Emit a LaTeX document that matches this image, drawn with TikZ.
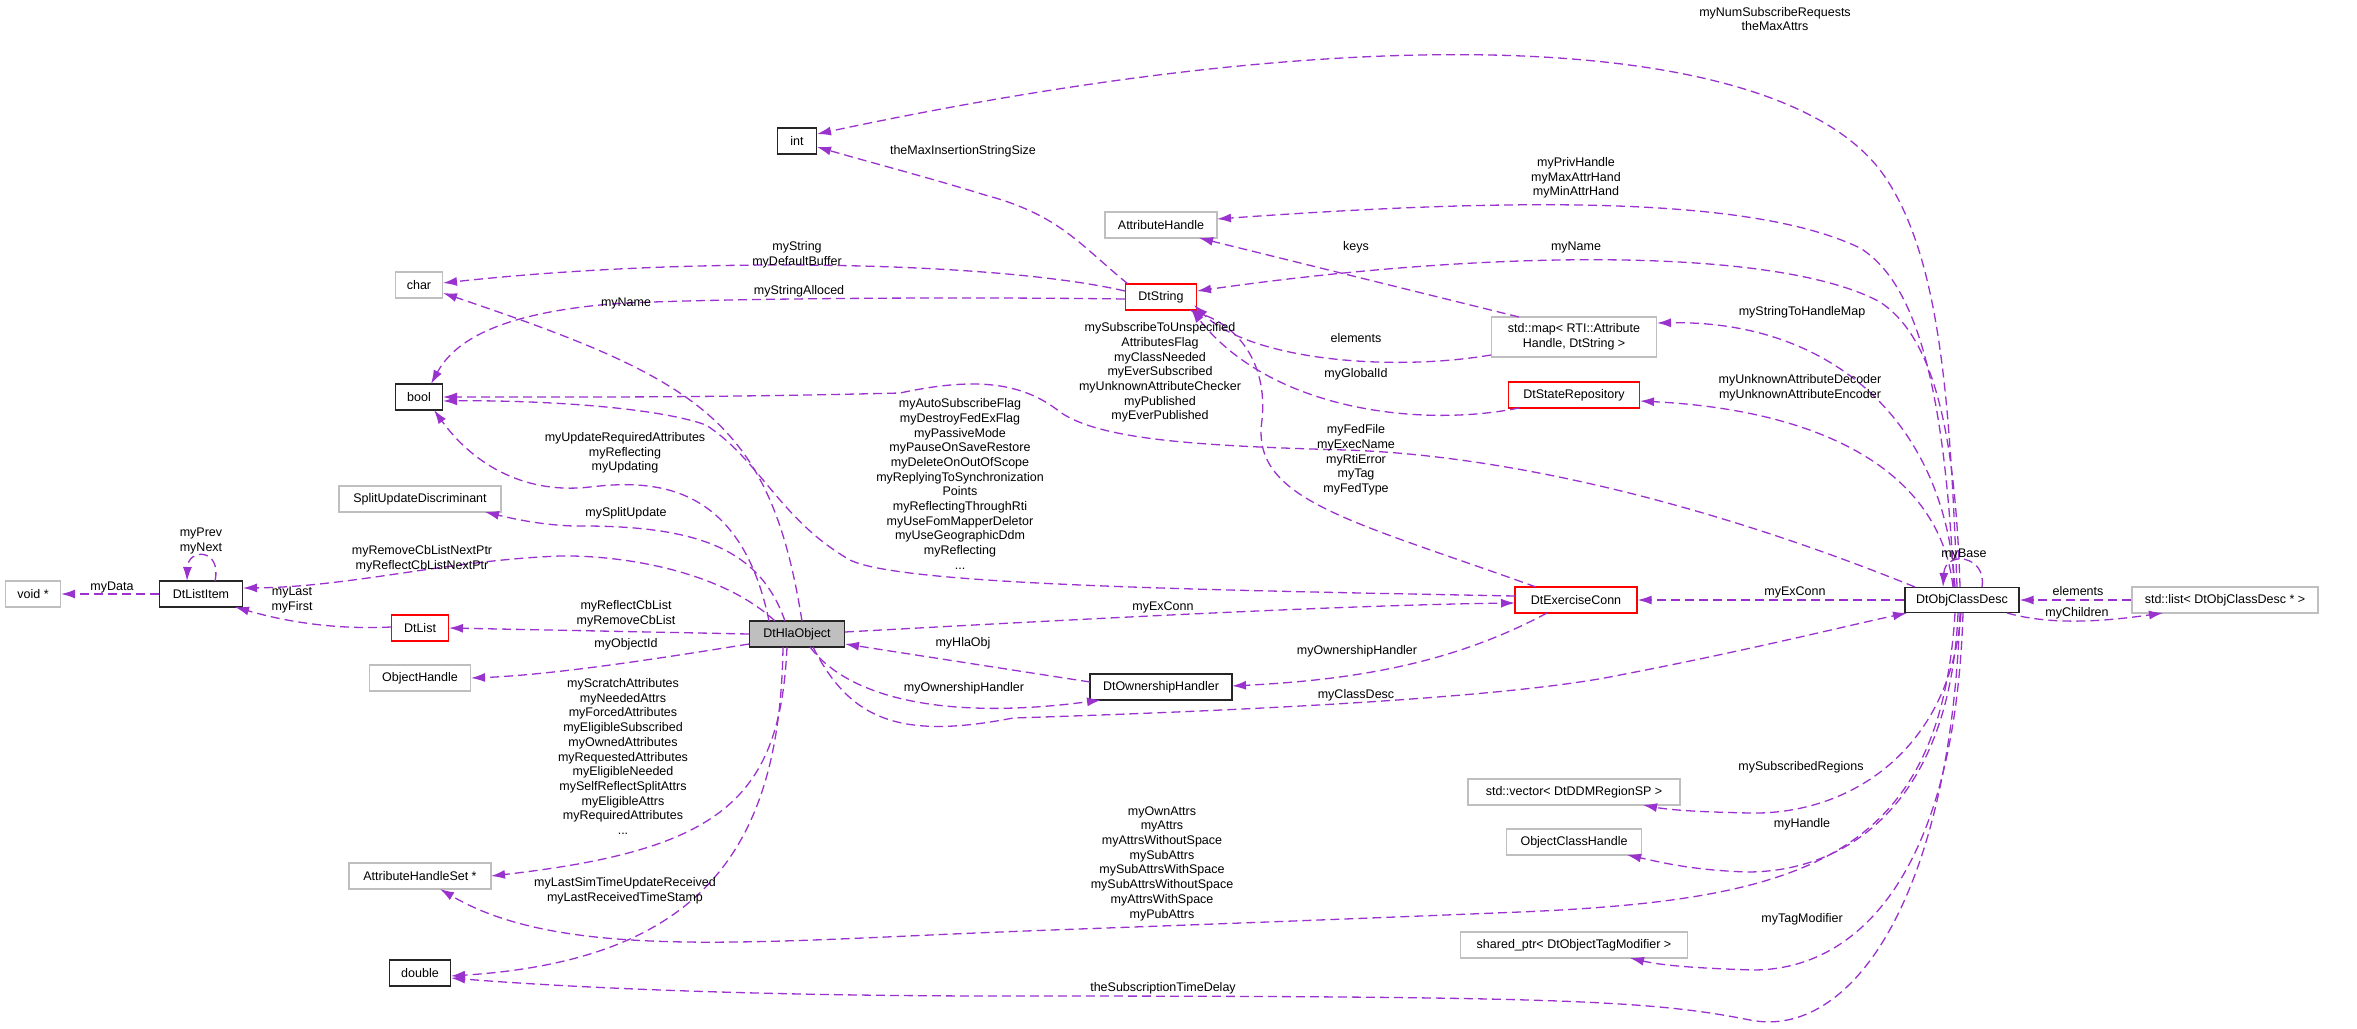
\documentclass[tikz,border=0pt]{standalone}
\usepackage{fontspec}
\setmainfont{Liberation Sans}
\usetikzlibrary{arrows.meta,calc}
\definecolor{edg}{HTML}{9A32CD}
\definecolor{gbox}{HTML}{BFBFBF}
\begin{document}
\begin{tikzpicture}[x=1pt,y=-1pt,
  every node/.style={font=\fontsize{12.5}{14.7}\selectfont},
  box/.style={draw, line width=1.2pt, minimum height=26pt, inner sep=2pt, fill=white},
  gb/.style={box, draw=gbox},
  bb/.style={box, draw=black!85},
  rb/.style={box, draw=red},
  lab/.style={align=center, inner sep=0pt},
  e/.style={draw=edg, line width=1.3pt, dash pattern=on 9pt off 5pt, -{Latex[length=14pt,width=9pt,fill=edg]}},
]
\useasboundingbox (0,0) rectangle (2357,1028);
% nodes
\node[bb, minimum width=39pt] (int) at (797,141) {int};
\node[gb, minimum width=112pt] (ah) at (1161,225) {AttributeHandle};
\node[gb, minimum width=47pt] (char) at (419,285) {char};
\node[rb, minimum width=71pt] (dts) at (1161,297) {DtString};
\node[bb, minimum width=47pt] (bool) at (419,397) {bool};
\node[gb, minimum width=165pt, minimum height=40pt, align=center] (map) at (1574,337) {std::map< RTI::Attribute\\Handle, DtString >};
\node[rb, minimum width=131pt] (dsr) at (1574,395) {DtStateRepository};
\node[gb, minimum width=162pt] (sud) at (420,499) {SplitUpdateDiscriminant};
\node[gb, minimum width=55pt] (void) at (33,594) {void *};
\node[bb, minimum width=83pt] (dli) at (201,594) {DtListItem};
\node[rb, minimum width=57pt] (dl) at (420,628) {DtList};
\node[gb, minimum width=101pt] (oh) at (420,678) {ObjectHandle};
\node[box, draw=black!85, fill=gbox, minimum width=95pt] (hla) at (797,634) {DtHlaObject};
\node[gb, minimum width=142pt] (ahs) at (420,876) {AttributeHandleSet *};
\node[bb, minimum width=61pt] (dbl) at (420,973) {double};
\node[rb, minimum width=122pt] (dec) at (1576,600) {DtExerciseConn};
\node[bb, minimum width=142pt] (doh) at (1161,687) {DtOwnershipHandler};
\node[bb, minimum width=114pt, minimum height=25pt] (dod) at (1962,600) {DtObjClassDesc};
\node[gb, minimum width=186pt] (lst) at (2225,600) {std::list< DtObjClassDesc * >};
\node[gb, minimum width=212pt] (vec) at (1574,792) {std::vector< DtDDMRegionSP >};
\node[gb, minimum width=135pt] (och) at (1574,842) {ObjectClassHandle};
\node[gb, minimum width=227pt] (sp) at (1574,945) {shared\_ptr< DtObjectTagModifier >};
% edges
\path[e] ($(dod)+(-5,-13)$) .. controls (1950,400) and (1940,250) .. (1880,170) .. controls (1780,40) and (1400,10) .. ($(int)+(20,-7)$);
\path[e] ($(dts)+(-33,-13)$) .. controls (1080,245) and (1060,215) .. (985,195) .. controls (930,178) and (880,165) .. ($(int)+(20,6)$);
\path[e] ($(dod)+(-8,-13)$) .. controls (1945,400) and (1920,285) .. (1860,248) .. controls (1760,200) and (1550,195) .. ($(ah)+(56,-6)$);
\path[e] ($(map)+(-55,-20)$) -- ($(ah)+(38,13)$);
\path[e] ($(dod)+(-2,-13)$) .. controls (1955,420) and (1930,335) .. (1880,302) .. controls (1780,248) and (1500,248) .. ($(dts)+(36,-6)$);
\path[e] ($(map)+(-83,18)$) .. controls (1390,372) and (1250,360) .. ($(dts)+(33,8)$);
\path[e] ($(dsr)+(-55,13)$) .. controls (1420,428) and (1270,410) .. ($(dts)+(30,12)$);
\path[e] ($(dec)+(-40,-13)$) .. controls (1350,520) and (1250,500) .. (1262,420) .. controls (1268,360) and (1235,325) .. ($(dts)+(28,13)$);
\path[e] ($(dod)+(-7,-13)$) .. controls (1945,420) and (1830,320) .. ($(map)+(83,-14)$);
\path[e] ($(dod)+(-9,-13)$) .. controls (1940,470) and (1820,410) .. ($(dsr)+(66,6)$);
\path[e] ($(dts)+(-36,-6)$) .. controls (1000,262) and (700,255) .. ($(char)+(24,-2)$);
\path[e] ($(dts)+(-36,2)$) .. controls (900,296) and (640,300) .. (600,305) .. controls (500,315) and (455,340) .. ($(bool)+(12,-13)$);
\path[e] ($(hla)+(5,-13)$) .. controls (770,420) and (700,380) .. ($(char)+(24,8)$);
\path[e] ($(dod)+(-47,-13)$) .. controls (1700,500) and (1500,455) .. (1346,450) .. controls (1200,446) and (1100,440) .. (1060,412) .. controls (1020,380) and (970,378) .. (900,393) .. controls (700,398) and (550,397) .. ($(bool)+(24,0)$);
\path[e] ($(dec)+(-61,-4)$) .. controls (1200,590) and (900,585) .. (850,560) .. controls (780,520) and (760,460) .. (706,425) .. controls (650,405) and (520,400) .. ($(bool)+(24,4)$);
\path[e] ($(hla)+(-28,-13)$) .. controls (740,480) and (650,480) .. (590,487) .. controls (520,495) and (470,460) .. ($(bool)+(15,13)$);
\path[e] ($(hla)+(-12,-13)$) .. controls (760,550) and (700,525) .. (574,526) .. controls (540,525) and (510,518) .. ($(sud)+(65,13)$);
\path[e] ($(hla)+(-22,-13)$) .. controls (720,570) and (620,555) .. (560,556) .. controls (450,560) and (350,587) .. ($(dli)+(42,-6)$);
\path[e] ($(dli)+(14,-13)$) .. controls (222,548) and (188,548) .. ($(dli)+(-14,-13)$);
\path[e] (dli.west) -- (void.east);
\path[e] ($(dl)+(-29,-1)$) .. controls (330,630) and (280,620) .. ($(dli)+(34,13)$);
\path[e] ($(hla)+(-48,0)$) -- ($(dl)+(29,0)$);
\path[e] ($(hla)+(-48,10)$) .. controls (650,660) and (550,675) .. ($(oh)+(51,0)$);
\path[e] ($(hla)+(-10,13)$) .. controls (780,800) and (720,850) .. ($(ahs)+(71,0)$);
\path[e] ($(hla)+(-14,13)$) .. controls (780,850) and (700,960) .. ($(dbl)+(31,3)$);
\path[e] ($(dod)+(-7,13)$) .. controls (1940,860) and (1800,900) .. (1520,912) .. controls (1200,925) and (1100,928) .. (1000,932) .. controls (750,942) and (560,960) .. ($(ahs)+(20,13)$);
\path[e] ($(dod)+(-2,13)$) .. controls (1950,900) and (1850,1040) .. (1750,1020) .. controls (1650,1000) and (1550,996) .. (1000,996) .. controls (800,996) and (600,990) .. ($(dbl)+(31,5)$);
\path[e] ($(dod)+(-1,13)$) .. controls (1950,750) and (1850,815) .. (1750,813) .. controls (1700,812) and (1670,810) .. ($(vec)+(69,13)$);
\path[e] ($(dod)+(-4,13)$) .. controls (1950,800) and (1850,872) .. (1747,872) .. controls (1690,870) and (1660,862) .. ($(och)+(53,13)$);
\path[e] ($(dod)+(1,13)$) .. controls (1955,870) and (1860,970) .. (1753,970) .. controls (1690,968) and (1660,965) .. ($(sp)+(56,13)$);
\path[e] ($(hla)+(16,13)$) .. controls (850,720) and (900,740) .. (1013,718) .. controls (1200,712) and (1500,700) .. (1620,675) .. controls (1750,650) and (1850,625) .. ($(dod)+(-55,13)$);
\path[e] ($(hla)+(13,13)$) .. controls (850,700) and (950,720) .. ($(doh)+(-60,13)$);
\path[e] ($(doh)+(-71,-5)$) -- ($(hla)+(48,10)$);
\path[e] ($(dec)+(-29,13)$) .. controls (1450,665) and (1350,680) .. ($(doh)+(71,-1)$);
\path[e] ($(hla)+(48,-2)$) .. controls (1100,618) and (1350,605) .. ($(dec)+(-61,3)$);
\path[e] (dod.west) -- (dec.east);
\path[e] ($(dod)+(20,-13)$) .. controls (1987,555) and (1945,550) .. ($(dod)+(-19,-13)$);
\path[e] (lst.west) -- (dod.east);
\path[e] ($(dod)+(45,13)$) .. controls (2050,625) and (2100,622) .. ($(lst)+(-62,13)$);
% labels
\node[lab] (l1) at (1775,19) {myNumSubscribeRequests\\theMaxAttrs};
\node[lab] (l2) at (963,151) {theMaxInsertionStringSize};
\node[lab] (l3) at (1576,178) {myPrivHandle\\myMaxAttrHand\\myMinAttrHand};
\node[lab] (l4) at (1356,247) {keys};
\node[lab] (l5) at (1576,247) {myName};
\node[lab] (l6) at (797,255) {myString\\myDefaultBuffer};
\node[lab] (l7) at (799,291) {myStringAlloced};
\node[lab] (l8) at (626,303) {myName};
\node[lab] (l9) at (1802,312) {myStringToHandleMap};
\node[lab] (l10) at (1356,338) {elements};
\node[lab] (l11) at (1356,374) {myGlobalId};
\node[lab] (l12) at (1800,388) {myUnknownAttributeDecoder\\myUnknownAttributeEncoder};
\node[lab] (l13) at (1160,372.5) {mySubscribeToUnspecified\\AttributesFlag\\myClassNeeded\\myEverSubscribed\\myUnknownAttributeChecker\\myPublished\\myEverPublished};
\node[lab] (l14) at (960,484) {myAutoSubscribeFlag\\myDestroyFedExFlag\\myPassiveMode\\myPauseOnSaveRestore\\myDeleteOnOutOfScope\\myReplyingToSynchronization\\Points\\myReflectingThroughRti\\myUseFomMapperDeletor\\myUseGeographicDdm\\myReflecting\\...};
\node[lab] (l15) at (1356,460) {myFedFile\\myExecName\\myRtiError\\myTag\\myFedType};
\node[lab] (l16) at (625,453) {myUpdateRequiredAttributes\\myReflecting\\myUpdating};
\node[lab] (l17) at (626,513) {mySplitUpdate};
\node[lab] (l18) at (201,541) {myPrev\\myNext};
\node[lab] (l19) at (422,559) {myRemoveCbListNextPtr\\myReflectCbListNextPtr};
\node[lab] (l20) at (112,587) {myData};
\node[lab] (l21) at (292,600) {myLast\\myFirst};
\node[lab] (l22) at (626,614) {myReflectCbList\\myRemoveCbList};
\node[lab] (l23) at (626,644) {myObjectId};
\node[lab] (l24) at (623,756.5) {myScratchAttributes\\myNeededAttrs\\myForcedAttributes\\myEligibleSubscribed\\myOwnedAttributes\\myRequestedAttributes\\myEligibleNeeded\\mySelfReflectSplitAttrs\\myEligibleAttrs\\myRequiredAttributes\\...};
\node[lab] (l25) at (625,891) {myLastSimTimeUpdateReceived\\myLastReceivedTimeStamp};
\node[lab] (l26) at (1163,607) {myExConn};
\node[lab] (l27) at (963,643) {myHlaObj};
\node[lab] (l28) at (964,688) {myOwnershipHandler};
\node[lab] (l29) at (1357,651) {myOwnershipHandler};
\node[lab] (l30) at (1356,695) {myClassDesc};
\node[lab] (l31) at (1795,592) {myExConn};
\node[lab] (l32) at (1964,554) {myBase};
\node[lab] (l33) at (2078,591) {elements};
\node[lab] (l34) at (2077,613) {myChildren};
\node[lab] (l35) at (1162,863.5) {myOwnAttrs\\myAttrs\\myAttrsWithoutSpace\\mySubAttrs\\mySubAttrsWithSpace\\mySubAttrsWithoutSpace\\myAttrsWithSpace\\myPubAttrs};
\node[lab] (l36) at (1163,988) {theSubscriptionTimeDelay};
\node[lab] (l37) at (1801,767) {mySubscribedRegions};
\node[lab] (l38) at (1802,824) {myHandle};
\node[lab] (l39) at (1802,919) {myTagModifier};
\end{tikzpicture}
\end{document}
